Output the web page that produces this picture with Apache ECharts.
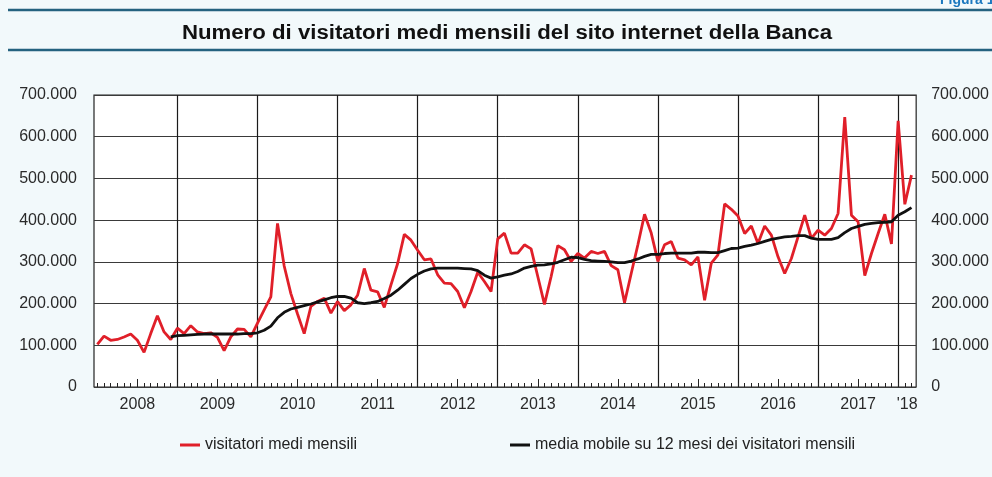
<!DOCTYPE html>
<html>
<head>
<meta charset="utf-8">
<script src="https://cdn.jsdelivr.net/npm/echarts@6/dist/echarts.min.js"></script>
<style>
  html, body { margin: 0; padding: 0; background: #f2f9fb; }
  #chart { width: 992px; height: 477px; }
</style>
</head>
<body>
<div id="chart"></div>
<script>
const TITLE = 'Numero di visitatori medi mensili del sito internet della Banca';

// year labels under the x axis (one per calendar year, last one is partial)
const anni = ['2008', '2009', '2010', '2011', '2012', '2013', '2014', '2015', '2016', '2017', "'18"];

// monthly values, thousands of visitors, Jan 2008 .. Mar 2018
const visitatori = [
  102, 122, 112, 114, 120, 127, 112, 83, 128, 171, 132, 114,   // 2008
  141, 128, 147, 132, 128, 130, 119, 87, 120, 139, 138, 120,   // 2009
  153, 185, 216, 392, 290, 224, 175, 128, 193, 205, 213, 177,  // 2010
  205, 183, 197, 220, 284, 232, 228, 191, 245, 296, 366, 352,  // 2011
  328, 305, 307, 269, 249, 248, 229, 190, 229, 275, 253, 229,  // 2012
  355, 369, 321, 321, 341, 331, 265, 198, 265, 339, 329, 301,  // 2013
  320, 309, 325, 320, 325, 291, 281, 202, 272, 341, 414, 369,  // 2014
  301, 341, 349, 309, 305, 293, 312, 208, 297, 317, 439, 426,  // 2015
  410, 368, 386, 344, 386, 364, 312, 272, 308, 360, 412, 356,  // 2016
  376, 364, 380, 416, 647, 412, 396, 267, 320, 368, 414, 343,  // 2017
  638, 438, 508                                                // 2018
];

// 12-month moving average (starts Dec 2008)
const mediaMobile = [
  null, null, null, null, null, null, null, null, null, null, null, 120,
  123, 124, 125, 126, 127, 127, 127, 127, 127, 127, 128, 128,
  130, 136, 146, 166, 179, 187, 191, 195, 199, 204, 209, 214,
  217, 217, 213, 202, 200, 202, 205, 212, 220, 232, 246, 260,
  270, 278, 283, 285, 285, 285, 285, 284, 283, 279, 268, 261,
  264, 268, 271, 277, 285, 289, 292, 293, 295, 299, 305, 311,
  310, 306, 303, 302, 301, 300, 298, 298, 302, 307, 313, 318,
  318, 320, 321, 321, 321, 321, 323, 323, 322, 322, 327, 332,
  333, 337, 340, 344, 349, 354, 357, 360, 361, 363, 363, 357,
  354, 354, 354, 358, 370, 380, 385, 390, 392, 394, 395, 396,
  412, 420, 430
];

const NAME_RED = 'visitatori medi mensili';
const NAME_BLACK = 'media mobile su 12 mesi dei visitatori mensili';

const chart = echarts.init(document.getElementById('chart'), null, { renderer: 'canvas' });

const FONT = '"Liberation Sans", Arial, Helvetica, sans-serif';
const nMonths = visitatori.length;
const xMin = -0.5;
const xMax = nMonths - 0.3;
const months = visitatori.map((_, i) => i);
const yearStarts = months.filter(i => i > 0 && i % 12 === 0);
const midYears = months.filter(i => i % 12 === 6);
const labelPos = anni.map((_, k) => Math.min(12 * k + 6, (12 * k + xMax) / 2));

const fmtThousands = (v) => String(v).replace(/\B(?=(\d{3})+(?!\d))/g, '.');

const tickAxis = (values, len) => ({
  type: 'value', min: xMin, max: xMax, position: 'bottom',
  axisLine: { show: false },
  axisLabel: { show: false },
  splitLine: { show: false },
  axisTick: { show: true, inside: true, length: len, customValues: values,
              lineStyle: { color: '#222', width: 1 } }
});

chart.setOption({
  animation: false,
  backgroundColor: '#f2f9fb',
  graphic: [
    { type: 'line', shape: { x1: 8, y1: 10, x2: 992, y2: 10 }, style: { stroke: '#25627f', lineWidth: 2.5 } },
    { type: 'line', shape: { x1: 8, y1: 50, x2: 992, y2: 50 }, style: { stroke: '#25627f', lineWidth: 2.5 } },
    { type: 'text', x: 940, y: 7, style: { text: 'Figura 1.', font: 'bold 14px ' + FONT, fill: '#1b78bf',
      textVerticalAlign: 'bottom' } },
    { type: 'text', x: 507, y: 33, scaleX: 1.11,
      style: { text: TITLE, font: 'bold 20px ' + FONT, fill: '#111', textAlign: 'center', textVerticalAlign: 'middle' } }
  ],
  grid: {
    left: 94, right: 75, top: 95, bottom: 90,
    show: true, backgroundColor: '#ffffff', borderColor: '#222', borderWidth: 1.2
  },
  legend: [
    { data: [NAME_RED], left: 175, top: 432, icon: 'rect', itemWidth: 20, itemHeight: 3,
      textStyle: { fontSize: 16, fontFamily: FONT, color: '#222' } },
    { data: [NAME_BLACK], left: 505, top: 432, icon: 'rect', itemWidth: 20, itemHeight: 3,
      textStyle: { fontSize: 16, fontFamily: FONT, color: '#222' } }
  ],
  xAxis: [
    {
      type: 'value', min: xMin, max: xMax, position: 'bottom',
      axisLine: { show: false },
      axisTick: { show: false, customValues: yearStarts },
      splitLine: { show: true, lineStyle: { color: '#1a1a1a', width: 1.2 } },
      axisLabel: {
        customValues: labelPos, margin: 10, fontSize: 16, fontFamily: FONT, color: '#2a2a2a',
        formatter: (v) => {
          const k = labelPos.findIndex(p => Math.abs(p - v) < 0.01);
          return k >= 0 ? anni[k] : '';
        }
      }
    },
    tickAxis(months, 4),
    tickAxis(midYears, 8)
  ],
  yAxis: [
    {
      type: 'value', min: 0, max: 700000, interval: 100000, position: 'left',
      axisLine: { show: false }, axisTick: { show: false },
      axisLabel: { margin: 17, fontSize: 16, fontFamily: FONT, color: '#2a2a2a', formatter: fmtThousands },
      splitLine: { show: true, lineStyle: { color: '#3a3a3a', width: 1 } }
    },
    {
      type: 'value', min: 0, max: 700000, interval: 100000, position: 'right',
      axisLine: { show: false }, axisTick: { show: false },
      axisLabel: { margin: 15, fontSize: 16, fontFamily: FONT, color: '#2a2a2a', formatter: fmtThousands },
      splitLine: { show: false }
    }
  ],
  series: [
    {
      name: NAME_RED, type: 'line', xAxisIndex: 0, yAxisIndex: 0,
      data: visitatori.map((v, i) => [i, v * 1000]),
      showSymbol: false, color: '#e01f29',
      lineStyle: { width: 2.8, color: '#e01f29' }
    },
    {
      name: NAME_BLACK, type: 'line', xAxisIndex: 0, yAxisIndex: 0,
      data: mediaMobile.map((v, i) => [i, v == null ? null : v * 1000]),
      showSymbol: false, color: '#111',
      lineStyle: { width: 2.8, color: '#111' }
    }
  ]
});
</script>
</body>
</html>
